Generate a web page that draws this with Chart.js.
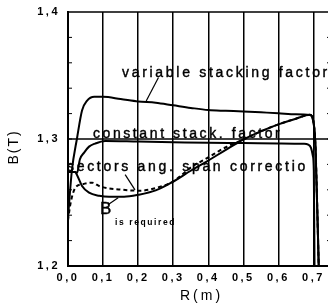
<!DOCTYPE html>
<html lang="en">
<head>
<meta charset="UTF-8">
<title>B(T) vs R(m)</title>
<script src="https://cdn.jsdelivr.net/npm/chart.js@4"></script>
<style>
  html, body { margin: 0; padding: 0; background: #fff; overflow: hidden; }
  #wrap { position: relative; width: 336px; height: 307px; }
</style>
</head>
<body>
<div id="wrap"><canvas id="grafico"></canvas></div>
<script>
// values: R (m) -> B (T)
const varR = [0, 0.011, 0.026, 0.04, 0.054, 0.075, 0.1, 0.15, 0.2, 0.25, 0.3, 0.35, 0.4, 0.45, 0.5, 0.55, 0.6, 0.65, 0.69, 0.701, 0.706, 0.715];
const varB = [1.238, 1.275, 1.301, 1.3225, 1.330, 1.3332, 1.3332, 1.3315, 1.3296, 1.3285, 1.3265, 1.3245, 1.3228, 1.3222, 1.3217, 1.321, 1.3203, 1.3195, 1.319, 1.3115, 1.292, 1.2];

const constR = [0, 0.02, 0.026, 0.034, 0.046, 0.06, 0.077, 0.106, 0.2, 0.3, 0.4, 0.5, 0.6, 0.672, 0.685, 0.693, 0.698, 0.701, 0.703];
const constB = [1.274, 1.274, 1.2735, 1.284, 1.2893, 1.294, 1.2964, 1.2985, 1.298, 1.2975, 1.297, 1.2968, 1.2965, 1.2962, 1.2955, 1.293, 1.287, 1.275, 1.2];

const reqR = [0, 0.02, 0.026, 0.04, 0.06, 0.089, 0.117, 0.16, 0.2, 0.25, 0.3, 0.35, 0.4, 0.45, 0.5, 0.55, 0.6, 0.65, 0.69, 0.701, 0.706, 0.715];
const reqB = [1.274, 1.274, 1.2715, 1.263, 1.2577, 1.2553, 1.2545, 1.2545, 1.256, 1.2595, 1.2665, 1.275, 1.283, 1.2915, 1.2996, 1.306, 1.3115, 1.316, 1.319, 1.3115, 1.292, 1.2];

const sectR = [0, 0.007, 0.021, 0.04, 0.069, 0.091, 0.157, 0.206, 0.254, 0.3, 0.35, 0.4, 0.45, 0.5, 0.55, 0.6, 0.65, 0.69, 0.701, 0.706, 0.715];
const sectB = [1.236, 1.249, 1.2617, 1.2643, 1.2656, 1.2627, 1.260, 1.2593, 1.2617, 1.2665, 1.2775, 1.2855, 1.2935, 1.2996, 1.306, 1.3115, 1.316, 1.319, 1.3115, 1.292, 1.2];

const levelR = [0, 0.75];
const levelB = [1.3, 1.3];

const xTicks = [0, 0.1, 0.2, 0.3, 0.4, 0.5, 0.6, 0.7];
const yTicks = [1.2, 1.3, 1.4];

// labels on the plot, placed in data units
const notes = [
  { text: 'variable stacking factor', r: 0.154, b: 1.3486, size: 14, ls: 2.7 },
  { text: 'constant stack. factor', r: 0.071, b: 1.3008, size: 14, ls: 2.6 },
  { text: 'sectors ang. span correctio', r: -0.003, b: 1.2745, size: 14, ls: 2.7 },
  { text: 'B', r: 0.091, b: 1.2411, size: 17, ls: 0 },
  { text: 'is required', r: 0.134, b: 1.2324, size: 8.5, bold: true, ls: 1.6 }
];
const pointers = [
  [[0.258, 1.3484], [0.223, 1.3299]],
  [[0.163, 1.2719], [0.191, 1.2600]],
  [[0.114, 1.2482], [0.143, 1.2538]]
];

const FONT = "'Liberation Sans', Arial, sans-serif";
Chart.defaults.font.family = FONT;
Chart.defaults.color = '#000';

const pts = (rs, bs) => rs.map((r, i) => ({ x: r, y: bs[i] }));
const fmt = v => v.toFixed(1).replace('.', ',');

const serie = (data, extra) => Object.assign({
  data: data,
  borderColor: '#000',
  borderWidth: 2,
  pointRadius: 0,
  fill: false,
  cubicInterpolationMode: 'monotone'
}, extra || {});

const notesPlugin = {
  id: 'notes',
  beforeDraw(chart) {
    chart.ctx.letterSpacing = '2.5px';
  },
  afterDraw(chart) {
    const ctx = chart.ctx;
    const xs = chart.scales.x, ys = chart.scales.y;
    const a = chart.chartArea;
    ctx.save();
    ctx.strokeStyle = '#000';
    ctx.fillStyle = '#000';

    // top and right frame
    ctx.lineWidth = 1.5;
    ctx.beginPath();
    ctx.moveTo(a.left, a.top);
    ctx.lineTo(a.right, a.top);
    ctx.lineTo(a.right, a.bottom);
    ctx.stroke();

    // small inward ticks on left and right axes
    ctx.lineWidth = 1;
    for (let v = 1.22; v < 1.4; v += 0.02) {
      const y = ys.getPixelForValue(v);
      ctx.beginPath();
      ctx.moveTo(a.left, y); ctx.lineTo(a.left + 4, y);
      ctx.moveTo(a.right, y); ctx.lineTo(a.right - 4, y);
      ctx.stroke();
    }

    // pointer lines
    ctx.lineWidth = 1.2;
    pointers.forEach(p => {
      ctx.beginPath();
      ctx.moveTo(xs.getPixelForValue(p[0][0]), ys.getPixelForValue(p[0][1]));
      ctx.lineTo(xs.getPixelForValue(p[1][0]), ys.getPixelForValue(p[1][1]));
      ctx.stroke();
    });

    // text notes (thin stroke to get the heavy scanned look)
    ctx.textBaseline = 'alphabetic';
    ctx.textAlign = 'left';
    ctx.lineWidth = 0.4;
    notes.forEach(n => {
      ctx.font = (n.bold ? 'bold ' : '') + n.size + 'px ' + FONT;
      ctx.letterSpacing = n.ls + 'px';
      const px = xs.getPixelForValue(n.r), py = ys.getPixelForValue(n.b);
      ctx.fillText(n.text, px, py);
      if (!n.bold) ctx.strokeText(n.text, px, py);
    });

    // axis titles
    ctx.font = '14px ' + FONT;
    ctx.letterSpacing = '3px';
    ctx.textAlign = 'center';
    ctx.textBaseline = 'middle';
    ctx.fillText('R(m)', (a.left + a.right) / 2 + 2, 296);
    ctx.letterSpacing = '2px';
    ctx.translate(14, (a.top + a.bottom) / 2 + 8);
    ctx.rotate(-Math.PI / 2);
    ctx.fillText('B(T)', 0, 0);
    ctx.restore();
  }
};

new Chart(document.getElementById('grafico').getContext('2d'), {
  type: 'line',
  data: {
    datasets: [
      serie(pts(levelR, levelB), { borderWidth: 1.5, cubicInterpolationMode: 'default', tension: 0 }),
      serie(pts(varR, varB)),
      serie(pts(constR, constB)),
      serie(pts(reqR, reqB)),
      serie(pts(sectR, sectB), { borderDash: [4, 3] })
    ]
  },
  options: {
    responsive: true,
    maintainAspectRatio: false,
    animation: false,
    events: [],
    layout: { padding: { top: 12, right: 5, left: 0, bottom: 0 } },
    plugins: { legend: { display: false }, tooltip: { enabled: false } },
    scales: {
      x: {
        type: 'linear',
        min: 0,
        max: 0.75,
        afterFit(s) { s.height = 41; s.paddingLeft = 0; s.paddingRight = 0; },
        afterBuildTicks(s) { s.ticks = xTicks.map(v => ({ value: v })); },
        ticks: {
          autoSkip: false,
          maxRotation: 0,
          padding: 5,
          font: { size: 11, weight: 'bold' },
          callback: v => fmt(v)
        },
        grid: { color: '#000', lineWidth: 1.5, drawTicks: false },
        border: { display: true, color: '#000', width: 2 }
      },
      y: {
        type: 'linear',
        min: 1.2,
        max: 1.4,
        afterFit(s) { s.width = 68; s.paddingTop = 0; s.paddingBottom = 0; },
        afterBuildTicks(s) { s.ticks = yTicks.map(v => ({ value: v })); },
        ticks: {
          autoSkip: false,
          padding: 8,
          font: { size: 11, weight: 'bold' },
          callback: v => fmt(v)
        },
        grid: { display: false, drawTicks: false },
        border: { display: true, color: '#000', width: 2 }
      }
    }
  },
  plugins: [notesPlugin]
});
</script>
</body>
</html>
